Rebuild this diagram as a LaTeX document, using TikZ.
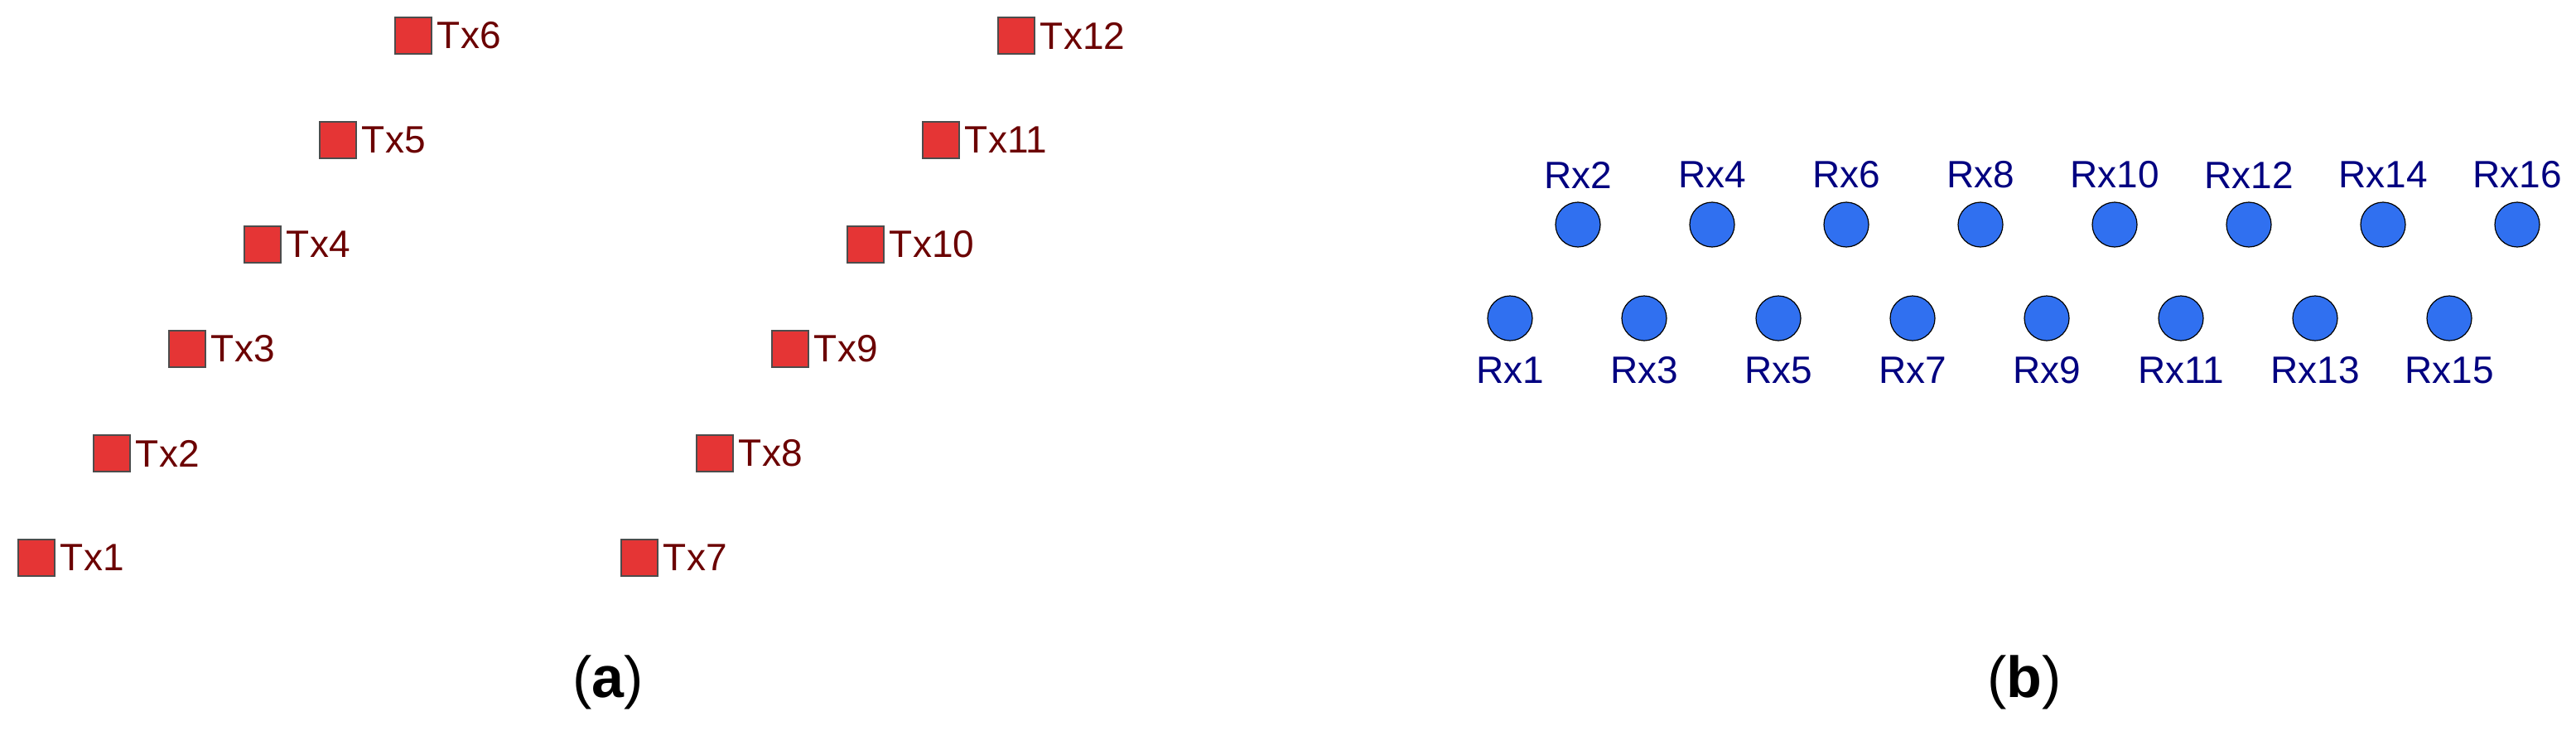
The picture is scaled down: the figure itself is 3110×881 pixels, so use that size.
\documentclass[tikz,border=0pt]{standalone}
\usepackage{fontspec}
\setmainfont{Liberation Sans}
\begin{document}
\begin{tikzpicture}[x=1pt,y=-1pt,
  tx/.style={draw=black!70,line width=1.5pt,fill=txred,minimum size=44pt,inner sep=0pt},
  txl/.style={anchor=west,inner sep=0pt,text=txtext,font=\fontsize{46}{50}\selectfont},
  rx/.style={circle,draw=black,line width=1.2pt,fill=rxblue,minimum size=54pt,inner sep=0pt},
  rxl/.style={inner sep=0pt,text=rxtext,font=\fontsize{46}{50}\selectfont},
  captext/.style={inner sep=0pt,font=\rmfamily\fontsize{70}{80}\selectfont}]
\definecolor{txred}{HTML}{E53535}
\definecolor{txtext}{HTML}{6B0000}
\definecolor{rxblue}{HTML}{3070F0}
\definecolor{rxtext}{HTML}{000080}
\useasboundingbox (0,0) rectangle (3110,881);
\foreach \i in {1,...,6}{
  \node[tx] (tx\i) at ({44+91*(\i-1)},{673-126*(\i-1)}) {};
  \node[txl] (txl\i) at ([xshift=6pt]tx\i.east) {Tx\i};
  \pgfmathtruncatemacro{\j}{\i+6}
  \node[tx] (tx\j) at ({772+91*(\i-1)},{673-126*(\i-1)}) {};
  \node[txl] (txl\j) at ([xshift=6pt]tx\j.east) {Tx\j};
}
\foreach \k in {1,...,8}{
  \pgfmathtruncatemacro{\o}{2*\k-1}
  \pgfmathtruncatemacro{\e}{2*\k}
  \node[rx] (rx\o) at ({1823+162*(\k-1)},384) {};
  \node[rxl] (rxl\o) at ({1823+162*(\k-1)},447) {Rx\o};
  \node[rx] (rx\e) at ({1905+162*(\k-1)},271) {};
  \node[rxl] (rxl\e) at ({1905+162*(\k-1)},211) {Rx\e};
}
\node[captext] (capa) at (734,823) {(\textbf{a})};
\node[captext] (capb) at (2444,823) {(\textbf{b})};
\end{tikzpicture}
\end{document}
